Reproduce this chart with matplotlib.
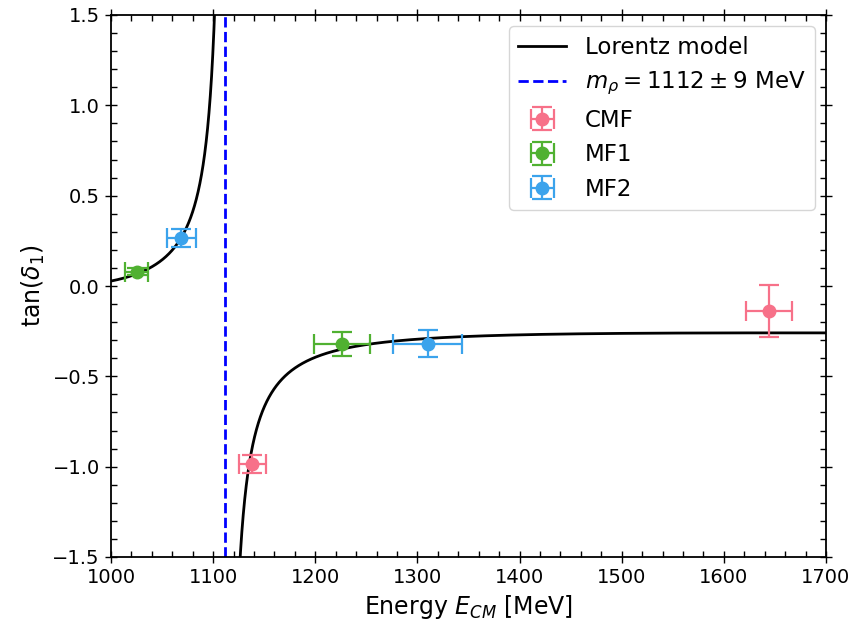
import numpy as np
import matplotlib
matplotlib.use('Agg')
import matplotlib.pyplot as plt
from matplotlib.ticker import MultipleLocator

# -- Colours (husl, 3 sets) ---------------------------------------------------
PINK  = '#f77189'
GREEN = '#50b131'
BLUE  = '#3ba3ec'

# -- Phase-shift points: energy [MeV] and tan(delta_1) ------------------------
cmf_E     = [1138.5, 1644.5]
cmf_E_err = [13.5, 22.7]
cmf_t     = [-0.985, -0.140]
cmf_t_err = [0.050, 0.145]

mf1_E     = [1025.0, 1226.0]
mf1_E_err = [11.0, 27.7]
mf1_t     = [0.080, -0.320]
mf1_t_err = [0.020, 0.066]

mf2_E     = [1069.0, 1310.0]
mf2_E_err = [14.2, 33.5]
mf2_t     = [0.265, -0.320]
mf2_t_err = [0.050, 0.075]

# -- Resonance fit ------------------------------------------------------------
M_RHO     = 1112.0     # MeV
M_RHO_ERR = 9.0
# p-wave Lorentz model: tan d = K p^3 / ((E/1 GeV)^a (m^2 - E^2))
M_PI   = 477.0
POLE   = 1112.5
A_EXP  = 0.85
K_FIT  = 0.00193312


def lorentz(e):
    p2 = np.clip(e**2 / 4 - M_PI**2, 0, None)
    return K_FIT * p2**1.5 / ((e / 1000.0)**A_EXP * (POLE**2 - e**2))


fig = plt.figure(figsize=(8.57, 6.28), dpi=100)
ax = fig.add_axes([111 / 857, 71 / 628, 715 / 857, 542 / 628])

# two branches so the pole is not bridged by a line
e_lo = np.linspace(1000, POLE - 0.05, 2000)
e_hi = np.linspace(POLE + 0.05, 1700, 4000)
ax.plot(e_lo, lorentz(e_lo), color='k', lw=2, label='Lorentz model')
ax.plot(e_hi, lorentz(e_hi), color='k', lw=2)
ax.axvline(M_RHO, color='b', ls='--', lw=2,
           label=rf'$m_\rho = {M_RHO:.0f} \pm {M_RHO_ERR:.0f}$ MeV')

eb = dict(fmt='o', ms=9, capsize=7, elinewidth=1.6, capthick=1.6)
ax.errorbar(cmf_E, cmf_t, xerr=cmf_E_err, yerr=cmf_t_err, color=PINK, label='CMF', **eb)
ax.errorbar(mf1_E, mf1_t, xerr=mf1_E_err, yerr=mf1_t_err, color=GREEN, label='MF1', **eb)
ax.errorbar(mf2_E, mf2_t, xerr=mf2_E_err, yerr=mf2_t_err, color=BLUE, label='MF2', **eb)

ax.set_xlim(1000, 1700)
ax.set_ylim(-1.5, 1.5)
ax.xaxis.set_major_locator(MultipleLocator(100))
ax.xaxis.set_minor_locator(MultipleLocator(20))
ax.yaxis.set_major_locator(MultipleLocator(0.5))
ax.yaxis.set_minor_locator(MultipleLocator(0.1))
ax.tick_params(which='both', top=True, right=True, labelsize=14)
ax.tick_params(which='major', direction='inout', length=9, width=1)
ax.tick_params(which='minor', direction='in', length=4.5, width=1)
for s in ax.spines.values():
    s.set_linewidth(1.3)

ax.set_xlabel(r'Energy $E_{CM}$ [MeV]', fontsize=17)
ax.set_ylabel(r'$\tan(\delta_1)$', fontsize=17)
ax.legend(loc='upper right', fontsize=16.5, handlelength=2.1)

fig.savefig('out.png', dpi=100)
